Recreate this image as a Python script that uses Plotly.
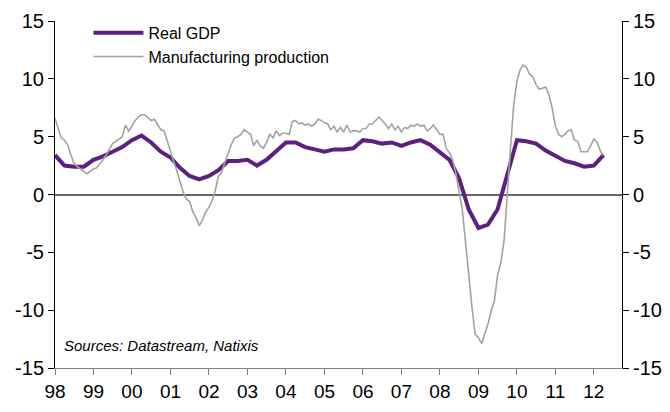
import pandas as pd
import plotly.graph_objects as go

# Real GDP, % y/y, quarterly 1998Q1 - 2012Q2
gdp = [3.4, 2.5, 2.4, 2.4,
       3.0, 3.3, 3.7, 4.1,
       4.7, 5.1, 4.5, 3.7,
       3.2, 2.3, 1.6, 1.3,
       1.6, 2.1, 2.9, 2.9,
       3.0, 2.5, 3.0, 3.8,
       4.5, 4.5, 4.1, 3.9,
       3.7, 3.9, 3.9, 4.0,
       4.7, 4.6, 4.4, 4.5,
       4.2, 4.5, 4.7, 4.3,
       3.6, 3.0, 1.4, -1.3,
       -2.9, -2.6, -1.3, 1.6,
       4.7, 4.6, 4.4, 3.8,
       3.3, 2.9, 2.7, 2.4,
       2.5, 3.4]

# Manufacturing production, % y/y, monthly Jan 1998 - Apr 2012
manuf = [6.6, 5.8, 4.9, 4.7, 4.3, 3.4, 2.7, 2.4, 2.2, 2.0, 1.8, 2.0,   # 98
         2.2, 2.3, 2.6, 3.0, 3.4, 3.9, 4.4, 4.6, 4.8, 5.0, 6.0, 5.5,   # 99
         5.9, 6.4, 6.7, 6.9, 6.9, 6.6, 6.4, 6.5, 6.0, 5.6, 5.5, 4.6,   # 00
         3.6, 2.8, 2.1, 1.1, 0.2, -0.4, -0.6, -1.5, -2.0, -2.7, -2.2, -1.5,  # 01
         -1.1, -0.5, 0.3, 1.6, 1.9, 2.8, 3.6, 4.3, 4.9, 5.0, 5.2, 5.6,  # 02
         5.4, 5.2, 4.2, 4.7, 4.2, 4.0, 4.5, 5.2, 4.9, 5.5, 5.1, 5.3,   # 03
         5.3, 5.2, 6.3, 6.4, 6.1, 6.2, 6.0, 6.1, 5.9, 6.1, 6.5, 6.4,   # 04
         6.2, 6.1, 5.6, 5.9, 5.4, 5.8, 5.4, 6.0, 5.4, 5.5, 5.5, 5.4,   # 05
         5.7, 5.7, 6.1, 6.1, 6.4, 6.7, 6.4, 6.1, 5.7, 6.1, 5.6, 5.9,   # 06
         5.4, 5.8, 5.7, 6.0, 5.9, 6.1, 5.9, 6.0, 5.5, 5.7, 6.0, 5.6,   # 07
         5.2, 5.2, 4.0, 3.6, 3.0, 1.8, 0.4, -1.3, -4.2, -7.3, -9.8, -12.1,  # 08
         -12.4, -12.9, -12.1, -11.2, -10.1, -9.2, -7.0, -5.9, -4.0, 0.2, 4.0, 7.7,  # 09
         9.8, 10.8, 11.2, 11.0, 10.4, 10.2, 9.5, 9.1, 9.2, 9.3, 8.6, 7.5,  # 10
         5.9, 5.2, 5.0, 5.2, 5.5, 5.6, 4.7, 4.6, 3.7, 3.7, 3.7, 4.2,   # 11
         4.8, 4.5, 3.8, 3.4]                                           # 12

gdp_dates = pd.date_range("1998-01-01", periods=len(gdp), freq="QS")
manuf_dates = pd.date_range("1998-01-01", periods=len(manuf), freq="MS")

y_ticks = [-15, -10, -5, 0, 5, 10, 15]
y_labels = [str(v) for v in y_ticks]   # plain hyphen, like the source

PURPLE = "#5b2181"
GREY = "#a3a3a3"
FONT = "Liberation Sans"

fig = go.Figure()

fig.add_trace(go.Scatter(
    x=gdp_dates, y=gdp, name="Real GDP", mode="lines",
    line=dict(color=PURPLE, width=4)
))
fig.add_trace(go.Scatter(
    x=manuf_dates, y=manuf, name="Manufacturing production", mode="lines",
    line=dict(color=GREY, width=1.6)
))
# invisible trace so the right-hand axis gets drawn
fig.add_trace(go.Scatter(
    x=[gdp_dates[0]], y=[0], yaxis="y2", mode="lines",
    showlegend=False, hoverinfo="skip", line=dict(width=0)
))

axis_common = dict(
    range=[-15, 15], tickvals=y_ticks, ticktext=y_labels,
    ticks="outside", ticklen=6, tickcolor="black",
    showline=True, linecolor="black", linewidth=1, showgrid=False,
    automargin=False, tickfont=dict(size=20, color="black", family=FONT),
)

# page body has an 8px margin, so the figure is sized 8px smaller
fig.update_layout(
    width=662, height=404,
    margin=dict(l=47, r=48, t=8, b=44),
    paper_bgcolor="white", plot_bgcolor="white",
    font=dict(family=FONT, color="black"),
    showlegend=True,
    legend=dict(
        x=0.059, y=1.015, xanchor="left", yanchor="top",
        bgcolor="rgba(0,0,0,0)", font=dict(size=16, family=FONT),
        tracegroupgap=4, itemwidth=50,
    ),
    xaxis=dict(
        type="date", range=["1998-01-01", "2012-09-24"],
        tick0="1998-01-01", dtick="M12", tickformat="%y",
        ticks="outside", ticklen=6, tickcolor="#808080",
        showline=True, linecolor="#808080", linewidth=1,
        showgrid=False, automargin=False,
        tickfont=dict(size=19, color="black", family=FONT),
    ),
    yaxis=dict(
        **axis_common, zeroline=True, zerolinecolor="#666666", zerolinewidth=1.5,
    ),
    yaxis2=dict(
        **axis_common, overlaying="y", side="right", zeroline=False,
    ),
    annotations=[dict(
        text="<i>Sources: Datastream, Natixis</i>", xref="paper", yref="paper",
        x=0.0127, y=0.065, xanchor="left", yanchor="middle", showarrow=False,
        font=dict(size=15, family=FONT, color="black"),
    )],
)

fig.write_html("out.html")
